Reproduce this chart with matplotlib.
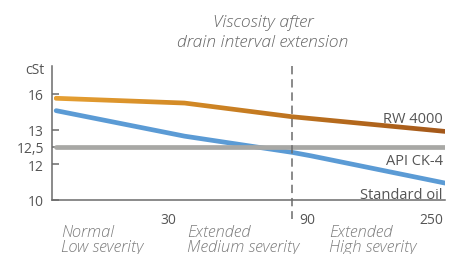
import numpy as np
import matplotlib
matplotlib.use("Agg")
import matplotlib.pyplot as plt
from matplotlib.path import Path
from matplotlib.transforms import IdentityTransform, blended_transform_factory
from matplotlib.colors import LinearSegmentedColormap
from matplotlib import font_manager

# ---------------- data ----------------
x_rw = [1, 38, 90, 250]
y_rw = [15.64, 15.24, 14.09, 12.95]
x_std = [1, 38, 90, 110, 250]
y_std = [14.6, 12.81, 12.34, 12.24, 10.94]
x_api = [1, 250]
y_api = [12.5, 12.5]
series_names = ["RW 4000", "API CK-4", "Standard oil"]
y_ticks = [10, 12, 12.5, 13, 16]
y_tick_labels = ["10", "12", "12,5", "13", "16"]
x_ticks = [30, 90, 250]
x_tick_labels = ["30", "90", "250"]
marker_x = 90
category_top = ["Normal", "Extended", "Extended"]
category_bottom = ["Low severity", "Medium severity", "High severity"]
title_lines = ["Viscosity after", "drain interval extension"]
y_unit = "cSt"

# ---------------- scale anchors (schematic axes) ----------------
y_anchor_val = [10, 12, 12.5, 13, 16, 18.35]
y_anchor_pos = [0, 35.4, 53, 70, 105.7, 133.7]
x_anchor_val = [0, 30, 90, 250]
x_anchor_pos = [0, 115.7, 239.7, 392.7]

avail = {f.name for f in font_manager.fontManager.ttflist}
FONT = "Open Sans" if "Open Sans" in avail else "DejaVu Sans"
plt.rcParams["font.family"] = [FONT, "DejaVu Sans"]
plt.rcParams["lines.scale_dashes"] = False

W, H = 454, 255
fig = plt.figure(figsize=(W / 100, H / 100), dpi=100)


def fx(px):
    return px / W


def fy(py):
    return 1 - py / H


ax_l, ax_r, ax_t, ax_b = 52.3, 445.0, 67.0, 200.7
rect = [fx(ax_l), fy(ax_b), fx(ax_r - ax_l), (ax_b - ax_t) / H]
ax = fig.add_axes(rect)
ax.set_zorder(2)
ax.patch.set_visible(False)

ax.set_xscale("function", functions=(lambda v: np.interp(v, x_anchor_val, x_anchor_pos),
                                     lambda p: np.interp(p, x_anchor_pos, x_anchor_val)))
ax.set_yscale("function", functions=(lambda v: np.interp(v, y_anchor_val, y_anchor_pos),
                                     lambda p: np.interp(p, y_anchor_pos, y_anchor_val)))
ax.set_xlim(0, 250)
ax.set_ylim(10, 18.35)

spine_c = "#6b6b6b"
for s in ["top", "right"]:
    ax.spines[s].set_visible(False)
for s in ["left", "bottom"]:
    ax.spines[s].set_color(spine_c)
    ax.spines[s].set_linewidth(1.1)

ax.set_xticks([])
ax.set_yticks(y_ticks)
ax.set_yticklabels(y_tick_labels)
ax.tick_params(axis="y", direction="in", length=5, width=1.1, color=spine_c,
               labelsize=10, labelcolor="#555555", pad=6)
ax.minorticks_off()

LW = 3.4
blue = "#5b9bd5"
gray = "#a8a8a5"
ax.plot(x_std, y_std, color=blue, lw=LW, solid_capstyle="round", solid_joinstyle="round", zorder=3)
ax.plot(x_api, y_api, color=gray, lw=LW, solid_capstyle="round", zorder=4)

# dashed marker line, extending below the axis
blend = blended_transform_factory(ax.transData, ax.transAxes)
ax.plot([marker_x, marker_x], [1.0, -0.145], transform=blend, color="#6b6b6b",
        lw=1.1, dashes=(6, 3.5), clip_on=False, zorder=5)

# gradient RW 4000 line (overlay axes below the main one)
gax = fig.add_axes(rect)
gax.set_zorder(1)
gax.set_axis_off()
gax.set_xlim(0, 1)
gax.set_ylim(0, 1)
fig.canvas.draw()
pts = ax.transData.transform(np.column_stack([x_rw, y_rw]))
h = LW * 100 / 72 / 2
th = np.linspace(-np.pi / 2, np.pi / 2, 12)
right_cap = pts[-1] + np.column_stack([h * np.cos(th), h * np.sin(th)])
th2 = np.linspace(np.pi / 2, 3 * np.pi / 2, 12)
left_cap = pts[0] + np.column_stack([h * np.cos(th2), h * np.sin(th2)])
poly = np.vstack([pts - [0, h], right_cap, (pts + [0, h])[::-1], left_cap])
fr0 = ax.transAxes.inverted().transform(pts[0] - [h, 0])[0]
fr1 = ax.transAxes.inverted().transform(pts[-1] + [h, 0])[0]
cmap = LinearSegmentedColormap.from_list("rw", ["#e6a033", "#d38a26", "#b96e1e", "#a4581a"])
im = gax.imshow(np.linspace(0, 1, 256)[None, :], cmap=cmap, extent=[fr0, fr1, 0, 1],
                aspect="auto", interpolation="bilinear")
im.set_clip_path(Path(poly, closed=True), IdentityTransform())

# x tick labels
xt_offsets = [(0, "center"), (5, "left"), (-1.5, "right")]
for v, lab, (dx, ha) in zip(x_ticks, x_tick_labels, xt_offsets):
    ax.annotate(lab, xy=(v, 0), xycoords=blend, xytext=(dx, -14.4), textcoords="offset points",
                ha=ha, va="center", fontsize=10, color="#555555", annotation_clip=False)

# unit label
fig.text(fx(44.5), fy(70), y_unit, ha="right", va="center", fontsize=10, color="#555555")

# series labels
lab_y = [122.7, 165.3, 199.3]
for name, py in zip(series_names, lab_y):
    fig.text(fx(443), fy(py), name, ha="right", va="baseline", fontsize=10.5, color="#555555")

# title
for line, py in zip(title_lines, [26.7, 46.7]):
    fig.text(fx(263), fy(py), line, ha="center", va="baseline", fontsize=12.6,
             style="italic", color="#666666", fontweight="light")

# category labels
cat_x = [60.7, 186.7, 329.3]
for cx, t, b in zip(cat_x, category_top, category_bottom):
    fig.text(fx(cx), fy(236.7), t, ha="left", va="baseline", fontsize=11.9,
             style="italic", color="#7c7c7c", fontweight="light")
    fig.text(fx(cx), fy(252.5), b, ha="left", va="baseline", fontsize=11.9,
             style="italic", color="#7c7c7c", fontweight="light")

fig.savefig("out.png", dpi=100)
